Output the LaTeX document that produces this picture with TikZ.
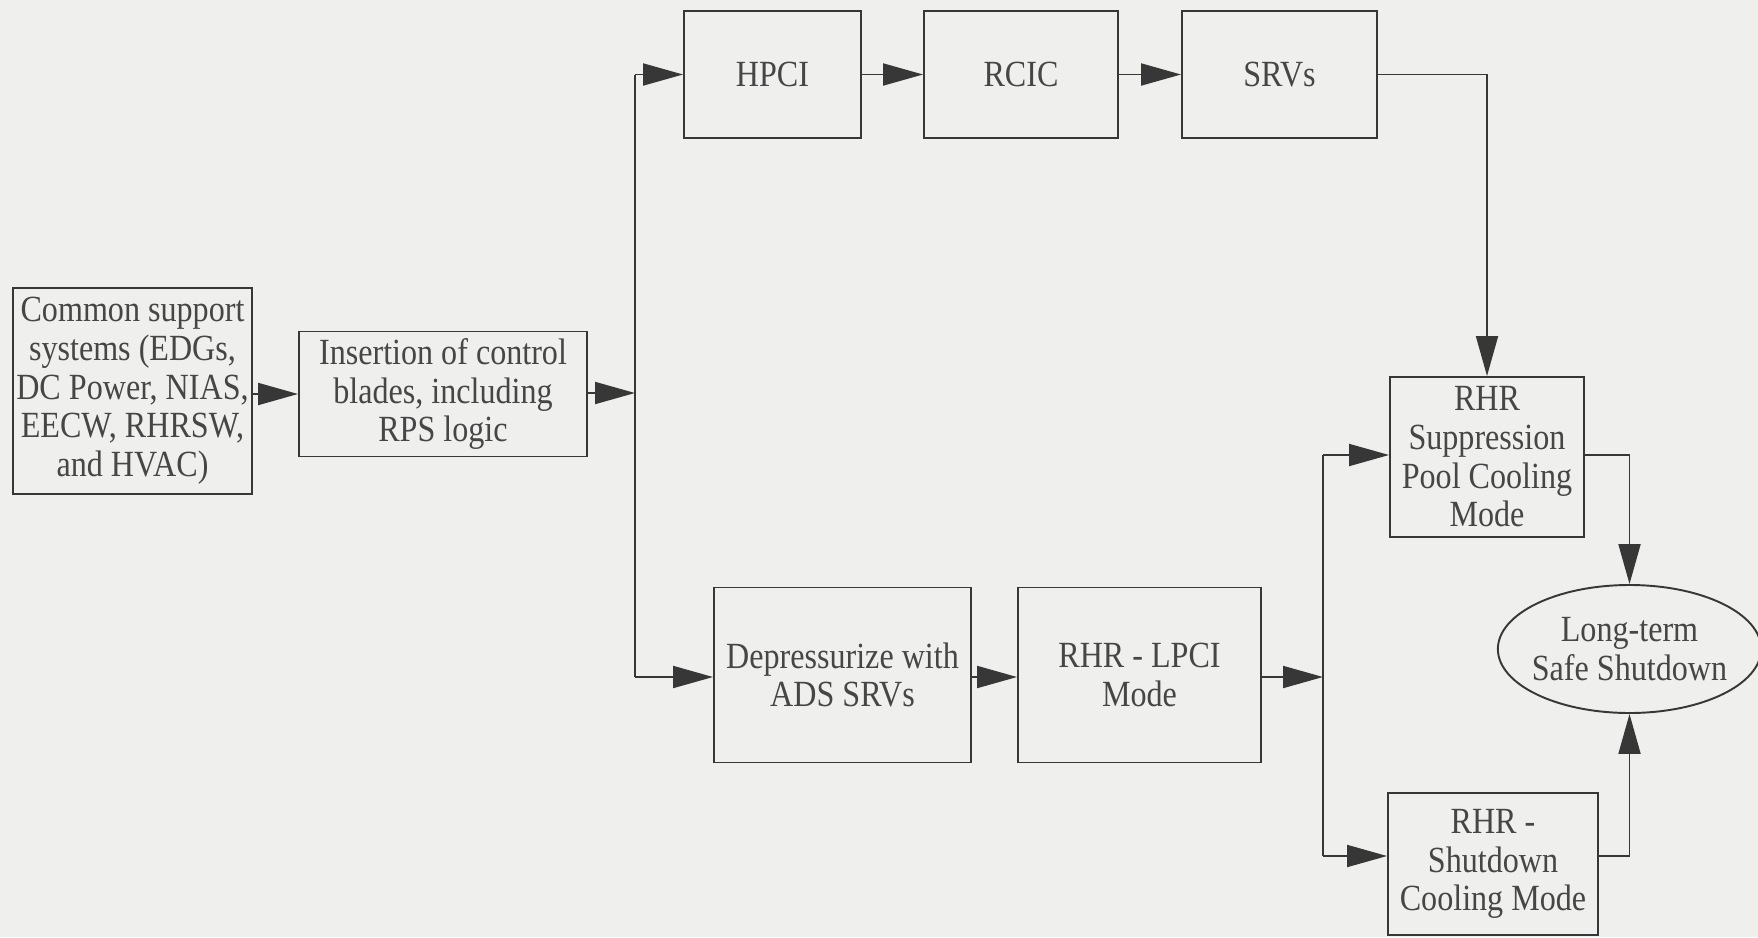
\documentclass[tikz,border=0pt]{standalone}
\usepackage{fontspec}
\setmainfont{Liberation Serif}[FakeStretch=0.87]
\usetikzlibrary{arrows.meta,shapes.geometric}
\definecolor{paper}{RGB}{239,239,237}
\definecolor{ink}{RGB}{55,55,55}
\definecolor{txt}{RGB}{70,70,70}
\begin{document}
\begin{tikzpicture}[x=1cm,y=1cm,font=\fontsize{10.5}{11}\selectfont,
  line width=0.55pt,draw=ink,text=txt,
  >={Triangle[length=4mm,width=2.2mm]},
  box/.style={draw=ink,rectangle,align=center,inner sep=1pt},
  goal/.style={draw=ink,ellipse,align=center,inner xsep=-1.3pt,inner ysep=0pt,minimum width=2.55cm,minimum height=1.28cm}]
\useasboundingbox (0,0) rectangle (17.58,9.37);
\fill[paper] (0,0) rectangle (17.58,9.37);
% left part
\node[box,minimum width=2.39cm,minimum height=2.06cm] (common) at (1.325,5.46) {Common support\\systems (EDGs,\\DC Power, NIAS,\\EECW, RHRSW,\\and HVAC)};
\node[box,minimum width=2.88cm,minimum height=1.25cm] (insert) at (4.43,5.43) {Insertion of control\\blades, including\\RPS logic};
\coordinate (s1t) at (6.35,8.625);\coordinate (s1m) at (6.35,5.44);\coordinate (s1b) at (6.35,2.60);
% top row
\node[box,minimum width=1.77cm,minimum height=1.27cm] (hpci) at (7.725,8.625) {HPCI};
\node[box,minimum width=1.94cm,minimum height=1.27cm] (rcic) at (10.21,8.625) {RCIC};
\node[box,minimum width=1.95cm,minimum height=1.27cm] (srvs) at (12.795,8.625) {SRVs};
% bottom row
\node[box,minimum width=2.57cm,minimum height=1.75cm] (depr) at (8.425,2.62) {Depressurize with\\ADS SRVs};
\node[box,minimum width=2.43cm,minimum height=1.75cm] (lpci) at (11.395,2.62) {RHR - LPCI\\Mode};
\coordinate (s2t) at (13.23,4.82);\coordinate (s2m) at (13.23,2.60);\coordinate (s2b) at (13.23,0.81);
% right part
\node[box,minimum width=1.94cm,minimum height=1.60cm] (supp) at (14.87,4.80) {RHR\\Suppression\\Pool Cooling\\Mode};
\node[box,minimum width=2.10cm,minimum height=1.42cm] (shut) at (14.93,0.73) {RHR -\\Shutdown\\Cooling Mode};
\node[goal] (safe) at (16.295,2.88) {Long-term\\Safe Shutdown};
% connectors
\draw[->] (insert.west -| common.east)--(insert.west);
\draw[->] (insert.east |- s1m)--(s1m);
\draw (s1t)--(s1b);
\draw[->] (s1t)--(hpci.west);
\draw[->] (hpci.east)--(rcic.west);
\draw[->] (rcic.east)--(srvs.west);
\draw[->] (s1b)--(depr.west |- s1b);
\draw[->] (depr.east |- s1b)--(lpci.west |- s1b);
\draw[->] (lpci.east |- s2m)--(s2m);
\draw (s2t)--(s2b);
\draw[->] (s2t)--(supp.west |- s2t);
\draw[->] (s2b)--(shut.west |- s2b);
\draw[->] (srvs.east)-|(supp.north);
\draw[->] (supp.east |- s2t)-|(safe.north);
\draw[->] (shut.east |- s2b)-|(safe.south);
\end{tikzpicture}
\end{document}
